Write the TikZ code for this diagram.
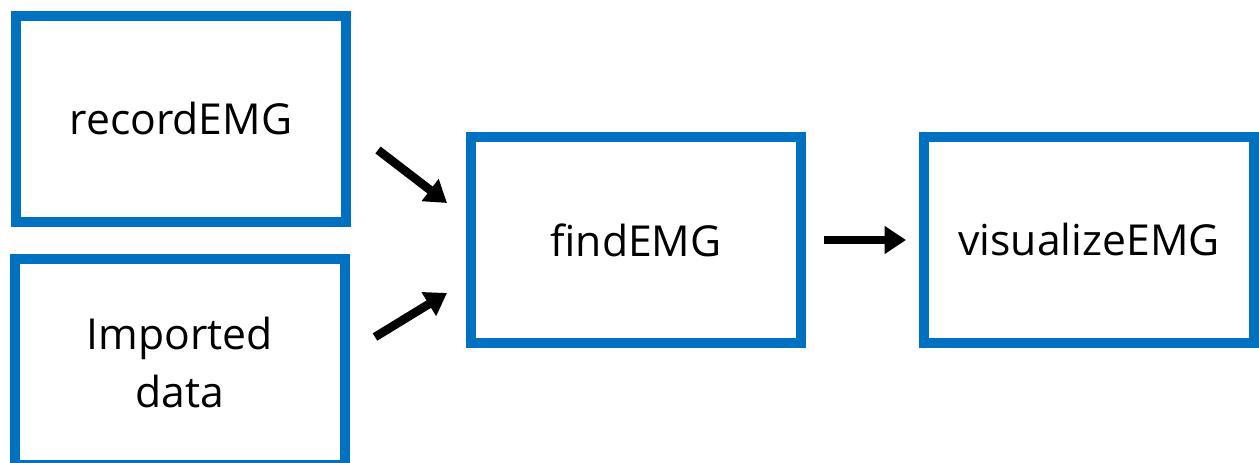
\documentclass[tikz,border=0pt]{standalone}
\usepackage{fontspec}
\usepackage{tikz}
\usetikzlibrary{arrows.meta}
\setmainfont{Open Sans}
\definecolor{emgblue}{RGB}{0,112,192}

\begin{document}
\begin{tikzpicture}[x=0.75pt, y=-0.75pt,
        stepbox/.style={draw=emgblue, line width=7.5pt, rectangle, inner sep=0pt,
            minimum width=247.5pt, minimum height=154.5pt, align=center,
            font=\fontsize{32}{43.5}\selectfont},
        flow/.style={line width=6.5pt, -{Triangle[length=16pt, width=20pt]}}]
        \useasboundingbox (0,0) rectangle (1259,463);
        % boxes
        \node[stepbox] (rec) at (181,119) {recordEMG};
        \node[stepbox] (imp) at (180,362) {Imported\\data};
        \node[stepbox] (find) at (636,240) {findEMG};
        \node[stepbox] (vis) at (1089,240) {visualizeEMG};
        % arrows
        \draw[flow] ([shift={(27,31)}]rec.east) -- ([shift={(-19,-37)}]find.west);
        \draw[flow] ([shift={(25,-25)}]imp.east) -- ([shift={(-19,53)}]find.west);
        \draw[flow] ([shift={(18,0)}]find.east) -- ([shift={(-13,0)}]vis.west);
\end{tikzpicture}
\end{document}
